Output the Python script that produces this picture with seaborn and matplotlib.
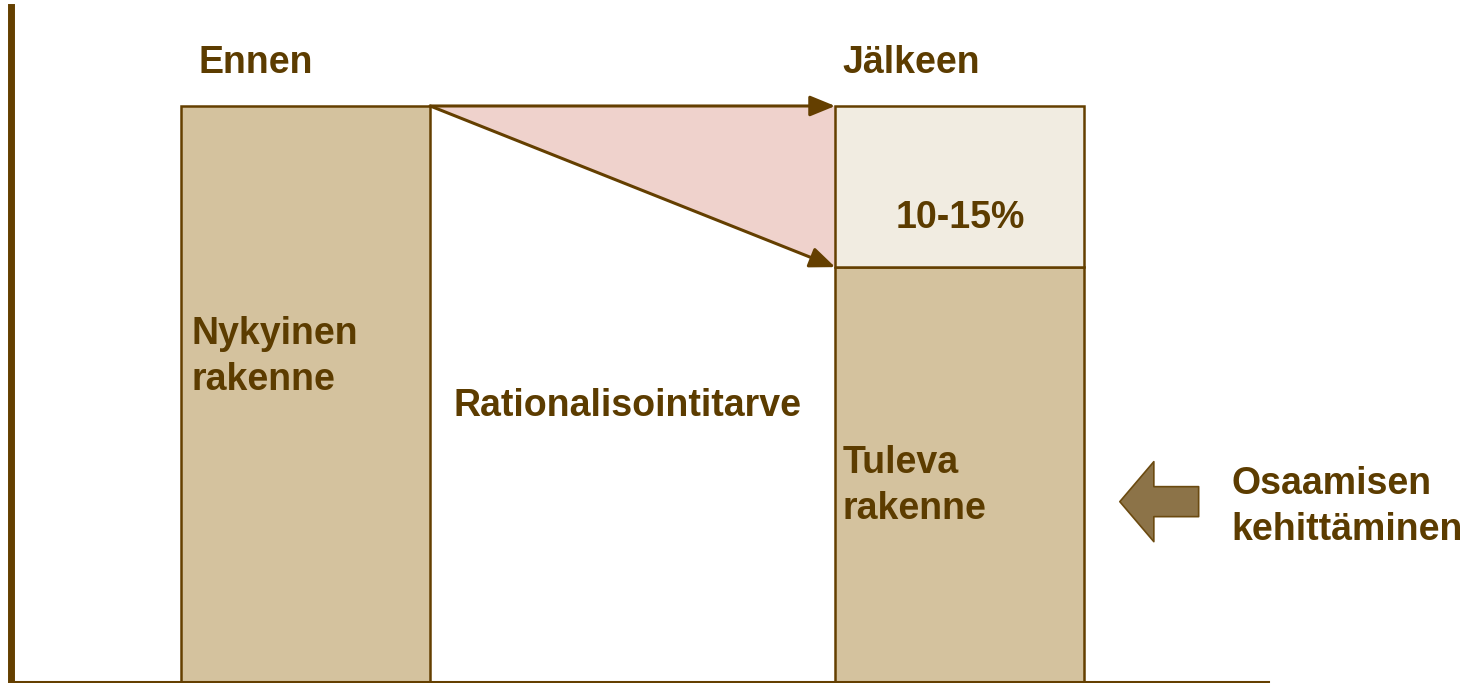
import matplotlib
matplotlib.use("Agg")
import matplotlib.pyplot as plt
from matplotlib.patches import Polygon
import seaborn as sns
import pandas as pd

# ---- data ----
categories = ["Ennen", "Jälkeen"]
base_values = [100, 72]        # Nykyinen rakenne / Tuleva rakenne
saving_values = [0, 28]        # rationalisointi share (labelled 10-15%)
base_labels = ["Nykyinen\nrakenne", "Tuleva\nrakenne"]
saving_label = "10-15%"
gap_label = "Rationalisointitarve"
side_label = "Osaamisen\nkehittäminen"

# ---- style ----
sns.set_style("white")
plt.rcParams["font.family"] = ["Liberation Sans", "DejaVu Sans"]

TAN = "#D4C29E"
LIGHT = "#F1ECE1"
PINK = "#EFD2CC"
EDGE = "#643F00"
TEXT = "#5C3C00"
ARROWFILL = "#8C7348"

W = 0.381
fig = plt.figure(figsize=(14.79, 6.83), dpi=100)
ax = fig.add_axes([10.5 / 1479, 1.5 / 683, (1268 - 10.5) / 1479, (681.5 - 7) / 683])

df = pd.DataFrame({"cat": categories, "base": base_values, "top": saving_values})
sns.barplot(data=df, x="cat", y="base", color=TAN, width=W, ax=ax,
            edgecolor=EDGE, linewidth=1.8, saturation=1)
totals = [b + t for b, t in zip(base_values, saving_values)]
ax.bar([1], [saving_values[1]], bottom=[base_values[1]], width=W,
       color=LIGHT, edgecolor=EDGE, linewidth=1.8, zorder=2)

ax.set_xlim(-0.451, 1.471)
ax.set_ylim(0, 117.2)
ax.set_xlabel("")
ax.set_ylabel("")
ax.set_xticks([])
ax.set_yticks([])
for s in ["top", "right"]:
    ax.spines[s].set_visible(False)
ax.spines["left"].set_linewidth(5.0)
ax.spines["bottom"].set_linewidth(2.2)
ax.spines["left"].set_color(EDGE)
ax.spines["bottom"].set_color(EDGE)

# pink triangle between the bars
x0 = 0 + W / 2
x1 = 1 - W / 2
tri = Polygon([(x0, totals[0]), (x1, totals[1]), (x1, base_values[1])],
              closed=True, facecolor=PINK, edgecolor="none", zorder=1)
ax.add_patch(tri)

arrow_kw = dict(arrowstyle="-|>,head_length=1.1,head_width=0.45", color=EDGE,
                lw=2.2, shrinkA=0, shrinkB=0, mutation_scale=14)
ax.annotate("", xy=(x1, totals[1]), xytext=(x0, totals[0]),
            arrowprops=arrow_kw, annotation_clip=False, zorder=3)
ax.annotate("", xy=(x1, base_values[1]), xytext=(x0, totals[0]),
            arrowprops=arrow_kw, annotation_clip=False, zorder=3)

# block arrow on the right
ax.annotate("", xy=(1.2445, 31.25), xytext=(1.365, 31.25),
            arrowprops=dict(arrowstyle="simple,head_length=2.45,head_width=5.76,tail_width=2.16",
                            mutation_scale=10, fc=ARROWFILL, ec="#6B4A10", lw=1.2,
                            shrinkA=0, shrinkB=0),
            annotation_clip=False)

fs = 27
tk = dict(color=TEXT, fontsize=fs, fontweight="bold", clip_on=False, linespacing=1.36)
ax.text(-0.1643, 107.5, categories[0], ha="left", va="center", **tk)
ax.text(0.821, 107.5, categories[1], ha="left", va="center", **tk)
ax.text(-0.175, 56.4, base_labels[0], ha="left", va="center", **tk)
ax.text(0.821, 34.0, base_labels[1], ha="left", va="center", **tk)
ax.text(0.2254, 47.9, gap_label, ha="left", va="center", **tk)
ax.text(1.0, 80.55, saving_label, ha="center", va="center", **tk)
ax.text(1.4156, 30.4, side_label, ha="left", va="center", **tk)

fig.savefig("out.png", dpi=100)
